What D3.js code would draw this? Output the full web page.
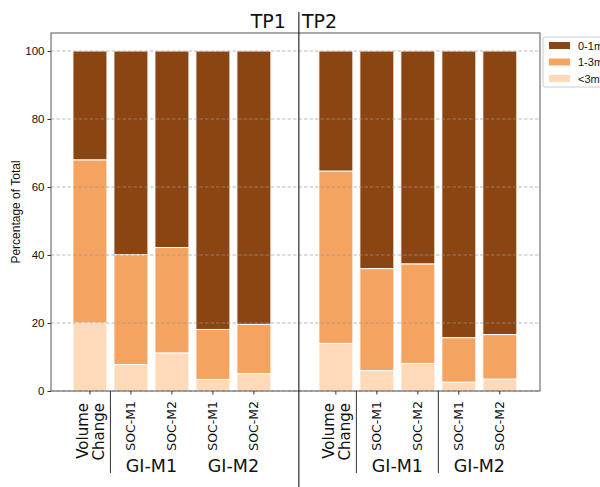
<!DOCTYPE html>
<html>
<head>
<meta charset="utf-8">
<script src="https://cdn.jsdelivr.net/npm/d3@7"></script>
<style>
  body { margin: 0; background: #fff; }
  text { font-family: "DejaVu Sans", sans-serif; fill: #111; }
  .arial { font-family: "Liberation Sans", Arial, sans-serif; }
</style>
</head>
<body>
<div id="root"></div>
<script>
'use strict';

// bar slots: TP1 bars 0..4, TP2 bars 6..10
var slots = [0, 1, 2, 3, 4, 6, 7, 8, 9, 10];
var barLabels = ['Volume Change', 'SOC-M1', 'SOC-M2', 'SOC-M1', 'SOC-M2',
                 'Volume Change', 'SOC-M1', 'SOC-M2', 'SOC-M1', 'SOC-M2'];
var fine = [20.0, 7.8, 11.2, 3.4, 5.1, 14.0, 6.0, 8.1, 2.6, 3.5];       // <3mm
var mid = [48.0, 32.3, 31.0, 14.7, 14.5, 50.7, 30.0, 29.3, 13.1, 13.1]; // 1-3mm
var coarse = [32.0, 59.9, 57.8, 81.9, 80.4, 35.3, 64.0, 62.6, 84.3, 83.4]; // 0-1mm
var yTicks = [0, 20, 40, 60, 80, 100];
var groupLabels = [{ name: 'GI-M1', at: 1.5 }, { name: 'GI-M2', at: 3.5 },
                   { name: 'GI-M1', at: 7.5 }, { name: 'GI-M2', at: 9.5 }];
var separators = [0.5, 6.5, 8.5];
var panels = [{ name: 'TP1', anchor: 'end' }, { name: 'TP2', anchor: 'start' }];
var seriesNames = ['0-1mm', '1-3mm', '<3mm'];
var colors = ['#8b4513', '#f4a460', '#ffdab9'];

var width = 600;
var height = 487;
var plotLeft = 51, plotRight = 540, plotTop = 33, plotBottom = 391;

var svg = d3.select('#root').append('svg')
  .attr('width', width)
  .attr('height', height);

var x = d3.scaleLinear().domain([-0.95, 10.98]).range([plotLeft, plotRight]);
var y = d3.scaleLinear().domain([0, 105.3]).range([plotBottom, plotTop]);
var bw = x(0.83) - x(0);

var rows = slots.map(function(s, i) {
  return { slot: s, fine: fine[i], mid: mid[i], coarse: coarse[i] };
});
var stack = d3.stack().keys(['fine', 'mid', 'coarse'])(rows);

// bars
svg.append('g').selectAll('g')
  .data(stack)
  .enter().append('g')
  .attr('fill', (d, i) => colors[2 - i])
  .selectAll('rect')
  .data(d => d)
  .enter().append('rect')
  .attr('x', d => x(d.data.slot) - bw / 2)
  .attr('width', bw)
  .attr('y', d => y(d[1]))
  .attr('height', d => y(d[0]) - y(d[1]))
  .attr('stroke', '#fff')
  .attr('stroke-width', 1);

// grid on top
svg.append('g').selectAll('line')
  .data(yTicks)
  .enter().append('line')
  .attr('x1', plotLeft).attr('x2', plotRight)
  .attr('y1', d => y(d)).attr('y2', d => y(d))
  .attr('stroke', '#999')
  .attr('stroke-opacity', 0.75)
  .attr('stroke-dasharray', '3.5,2')
  .attr('stroke-width', 0.9);

// frame
svg.append('rect')
  .attr('x', plotLeft).attr('y', plotTop)
  .attr('width', plotRight - plotLeft).attr('height', plotBottom - plotTop)
  .attr('fill', 'none')
  .attr('stroke', '#555')
  .attr('stroke-width', 1);

// y axis
var yAxis = svg.append('g')
  .attr('transform', 'translate(' + plotLeft + ',0)')
  .call(d3.axisLeft(y).tickValues(yTicks).tickSize(3.5).tickPadding(3));
yAxis.select('.domain').remove();
yAxis.selectAll('.tick line').attr('stroke', '#333');
yAxis.selectAll('text')
  .style('font-size', '11.5px')
  .style('font-family', '"Liberation Sans", Arial, sans-serif')
  .attr('fill', '#111');

svg.append('text')
  .attr('class', 'arial')
  .attr('transform', 'translate(20,' + ((plotTop + plotBottom) / 2) + ') rotate(-90)')
  .attr('text-anchor', 'middle')
  .style('font-size', '12px')
  .text('Percentage of Total');

// x ticks
svg.append('g').selectAll('line')
  .data(slots)
  .enter().append('line')
  .attr('x1', d => x(d)).attr('x2', d => x(d))
  .attr('y1', plotBottom).attr('y2', plotBottom + 3.5)
  .attr('stroke', '#333');

// x labels
slots.forEach(function(s, i) {
  var label = barLabels[i];
  if (label === 'Volume Change') {
    ['Volume', 'Change'].forEach(function(w, k) {
      svg.append('text')
        .attr('transform', 'translate(' + (x(s) - 2 + k * 16) + ',' + (plotBottom + 12) + ') rotate(-90)')
        .attr('text-anchor', 'end')
        .style('font-size', '15px')
        .text(w);
    });
  } else {
    svg.append('text')
      .attr('transform', 'translate(' + (x(s) + 4.5) + ',' + (plotBottom + 10) + ') rotate(-90)')
      .attr('text-anchor', 'end')
      .style('font-size', '12.5px')
      .text(label);
  }
});

// group labels
svg.append('g').selectAll('text')
  .data(groupLabels)
  .enter().append('text')
  .attr('x', d => x(d.at))
  .attr('y', 472)
  .attr('text-anchor', 'middle')
  .style('font-size', '17.5px')
  .text(d => d.name);

svg.append('g').selectAll('line')
  .data(separators)
  .enter().append('line')
  .attr('x1', d => x(d)).attr('x2', d => x(d))
  .attr('y1', plotBottom).attr('y2', 473)
  .attr('stroke', '#333');

// panel divider and titles
var divX = x(5) + 4;
svg.append('line')
  .attr('x1', divX).attr('x2', divX)
  .attr('y1', 12).attr('y2', height)
  .attr('stroke', '#000')
  .attr('stroke-width', 1);

svg.append('g').selectAll('text')
  .data(panels)
  .enter().append('text')
  .attr('x', d => d.anchor === 'end' ? divX - 13 : divX + 3)
  .attr('y', 28)
  .attr('text-anchor', d => d.anchor)
  .style('font-size', '19px')
  .text(d => d.name);

// legend
var legend = svg.append('g').attr('transform', 'translate(543,37)');
legend.append('rect')
  .attr('width', 70).attr('height', 50)
  .attr('rx', 2)
  .attr('fill', '#fff')
  .attr('stroke', '#ccc');
seriesNames.forEach(function(n, i) {
  legend.append('rect')
    .attr('x', 6).attr('y', 5 + i * 16.5)
    .attr('width', 21).attr('height', 7)
    .attr('fill', colors[i]);
  legend.append('text')
    .attr('class', 'arial')
    .attr('x', 35).attr('y', 12.5 + i * 16.5)
    .style('font-size', '11px')
    .text(n);
});
</script>
</body>
</html>
